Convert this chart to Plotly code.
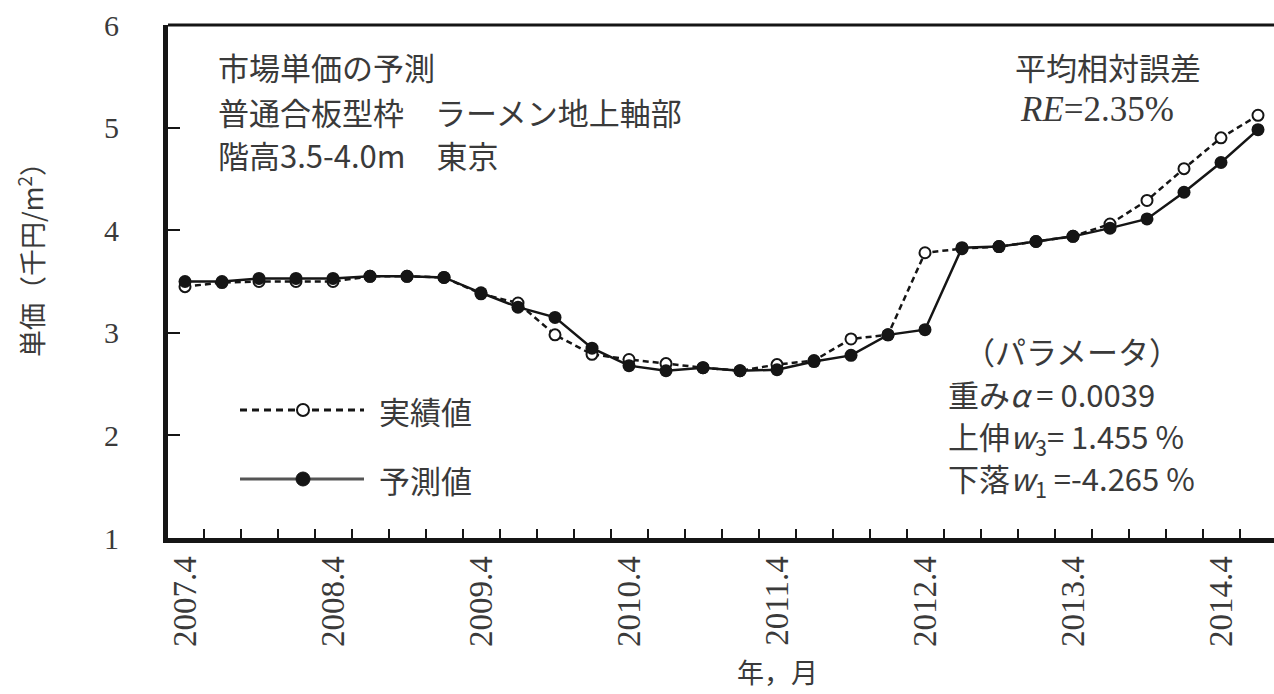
import plotly.graph_objects as go

# Quarterly survey periods (year.month)
periods = [
    "2007.4", "2007.7", "2007.10", "2008.1",
    "2008.4", "2008.7", "2008.10", "2009.1",
    "2009.4", "2009.7", "2009.10", "2010.1",
    "2010.4", "2010.7", "2010.10", "2011.1",
    "2011.4", "2011.7", "2011.10", "2012.1",
    "2012.4", "2012.7", "2012.10", "2013.1",
    "2013.4", "2013.7", "2013.10", "2014.1",
    "2014.4", "2014.7",
]

# Actual market unit price (thousand yen / m2)
actual = [
    3.45, 3.49, 3.50, 3.50, 3.50, 3.55, 3.55, 3.54,
    3.38, 3.29, 2.98, 2.79, 2.74, 2.70, 2.66, 2.63,
    2.69, 2.73, 2.94, 2.98, 3.78, 3.82, 3.84, 3.89,
    3.94, 4.06, 4.29, 4.60, 4.90, 5.12,
]

# Predicted market unit price (thousand yen / m2)
predicted = [
    3.50, 3.50, 3.53, 3.53, 3.53, 3.55, 3.55, 3.54,
    3.39, 3.25, 3.15, 2.85, 2.68, 2.63, 2.66, 2.63,
    2.64, 2.72, 2.78, 2.98, 3.03, 3.83, 3.84, 3.89,
    3.94, 4.02, 4.11, 4.37, 4.66, 4.98,
]

y_ticks = [1, 2, 3, 4, 5, 6]

idx = list(range(len(periods)))
label_idx = [i for i, p in enumerate(periods) if p.endswith(".4")]
label_txt = [periods[i] for i in label_idx]
boundaries = [i + 0.5 for i in idx[:-1]]

SERIF = "Liberation Serif, Noto Sans CJK JP, serif"
JP = "Noto Sans CJK JP, Liberation Serif, sans-serif"
INK = "#151515"
TXT = "#3a3a3a"

W, H = 1274, 694
L, R, T, B = 168, 0, 25, 156

fig = go.Figure()

fig.add_trace(go.Scatter(
    x=idx, y=actual, mode="lines+markers", name="実績値",
    line=dict(color=INK, width=2.5, dash="6px,4px"),
    marker=dict(symbol="circle", size=11, color="white",
                line=dict(color=INK, width=2)),
))
fig.add_trace(go.Scatter(
    x=idx, y=predicted, mode="lines+markers", name="予測値",
    line=dict(color=INK, width=2.5),
    marker=dict(symbol="circle", size=13, color=INK),
))


def px(x):
    return (x - L) / (W - L - R)


def py(y):
    return (H - B - y) / (H - B - T)


ann = []


def text(x, y, s, size=31, anchor="left", font=JP, color=TXT, angle=0):
    ann.append(dict(
        x=px(x), y=py(y), xref="paper", yref="paper", text=s,
        showarrow=False, xanchor=anchor, yanchor="middle",
        textangle=angle, font=dict(family=font, size=size, color=color),
    ))


# Title block, upper left
text(216, 66, "市場単価の予測")
text(216, 111, "普通合板型枠　ラーメン地上軸部")
text(216, 154, "階高3.5-4.0m　東京")

# Error summary, upper right
text(1108, 66, "平均相対誤差", anchor="center")
text(1097, 109, "<i>RE</i>=2.35%", size=35, anchor="center", font=SERIF)

# Model parameters
text(1072, 350, "（パラメータ）", anchor="center")
text(946, 393, "重み<i>α</i> = 0.0039")
text(946, 437, "上伸<i>w</i><sub>3</sub>= 1.455 %")
text(946, 479, "下落<i>w</i><sub>1</sub> =-4.265 %")

# Legend labels
text(377, 410, "実績値")
text(377, 479, "予測値")

# Axis titles
text(30, 253, "単価（千円/m<sup>2</sup>）", size=27, anchor="center", angle=-90)
text(777, 672, "年，月", size=27, anchor="center")

shapes = [
    # top frame line
    dict(type="line", xref="paper", yref="paper", x0=0, x1=1, y0=1, y1=1,
         line=dict(color=INK, width=3)),
    # legend: actual (dashed)
    dict(type="line", xref="paper", yref="paper",
         x0=px(240), x1=px(364), y0=py(410), y1=py(410),
         line=dict(color=INK, width=3, dash="7px,5px")),
    dict(type="circle", xref="paper", yref="paper",
         xsizemode="pixel", ysizemode="pixel",
         xanchor=px(303), yanchor=py(410), x0=-6, x1=6, y0=-6, y1=6,
         fillcolor="white", line=dict(color=INK, width=2)),
    # legend: predicted (solid)
    dict(type="line", xref="paper", yref="paper",
         x0=px(240), x1=px(364), y0=py(479), y1=py(479),
         line=dict(color="#555555", width=3)),
    dict(type="circle", xref="paper", yref="paper",
         xsizemode="pixel", ysizemode="pixel",
         xanchor=px(303), yanchor=py(479), x0=-7, x1=7, y0=-7, y1=7,
         fillcolor=INK, line=dict(color=INK, width=1)),
]

x_span = (W - L - R) / 37.0
x0 = -(185 - L) / 37.0
fig.update_layout(
    width=W, height=H,
    margin=dict(l=L, r=R, t=T, b=B, pad=0),
    paper_bgcolor="white", plot_bgcolor="white",
    showlegend=False,
    annotations=ann,
    shapes=shapes,
    xaxis=dict(
        range=[x0, x0 + x_span],
        tickvals=label_idx, ticktext=label_txt, tickangle=-90,
        ticks="", showgrid=False, zeroline=False,
        showline=True, linewidth=5, linecolor=INK,
        tickfont=dict(family=SERIF, size=33, color=TXT),
        minor=dict(tickvals=boundaries, ticks="inside", ticklen=9,
                   tickwidth=2, tickcolor=INK, showgrid=False),
    ),
    yaxis=dict(
        range=[1, 6], tickvals=y_ticks,
        ticks="inside", ticklen=12, tickwidth=2, tickcolor=INK,
        showgrid=False, zeroline=False,
        showline=True, linewidth=5, linecolor=INK,
        tickfont=dict(family=SERIF, size=30, color=TXT),
        ticklabelstandoff=38,
    ),
)

fig.write_html("out.html")
